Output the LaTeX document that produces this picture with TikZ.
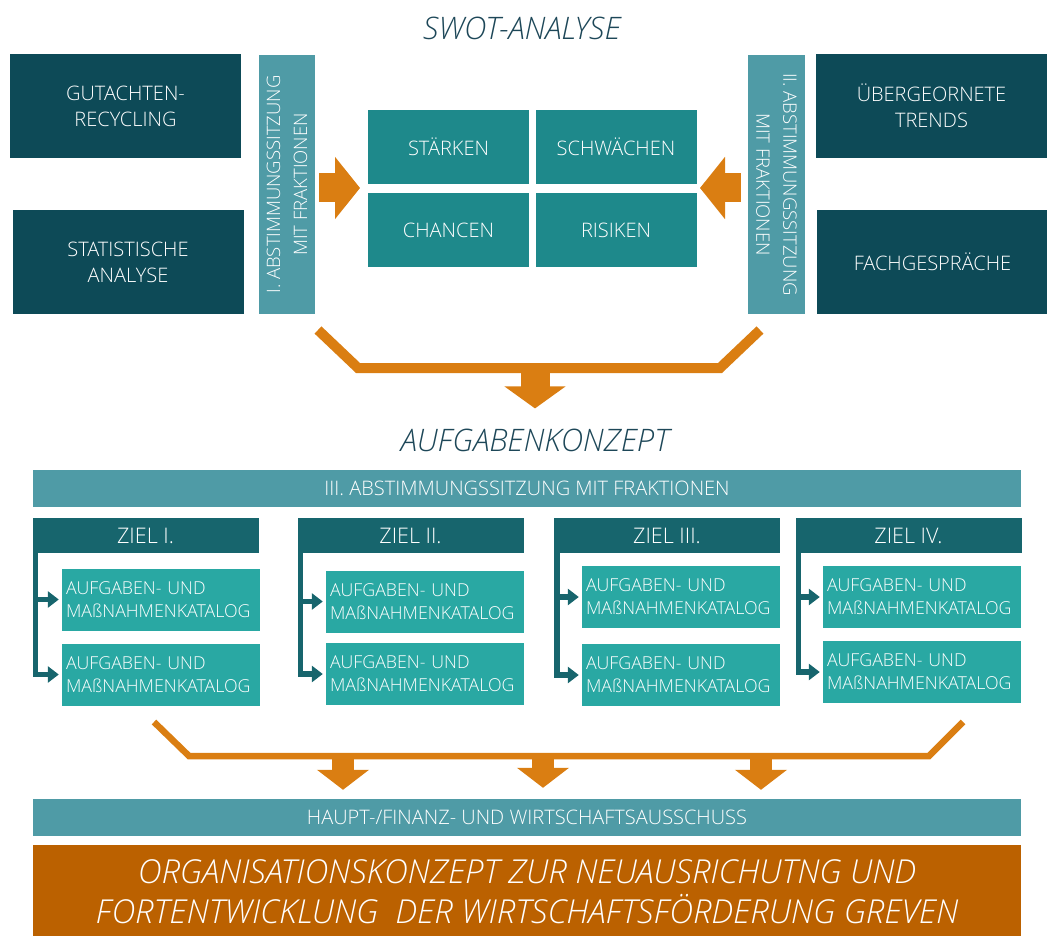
\documentclass[tikz,border=0pt]{standalone}
\usepackage{fontspec}
\setmainfont{Open Sans}[UprightFont=* Light, ItalicFont=* Light Italic]
\usetikzlibrary{arrows.meta}
\definecolor{srcColor}{RGB}{13, 74, 87}
\definecolor{voteColor}{RGB}{79, 155, 166}
\definecolor{swotColor}{RGB}{30, 137, 139}
\definecolor{goalColor}{RGB}{23, 101, 109}
\definecolor{catColor}{RGB}{41, 168, 163}
\definecolor{orangeColor}{RGB}{218, 126, 18}
\definecolor{finalColor}{RGB}{187, 97, 0}
\definecolor{headColor}{RGB}{29, 71, 88}

\begin{document}
\begin{tikzpicture}[x=1pt, y=-1pt]
    \tikzstyle{source} = [fill=srcColor, text=white, minimum width=231pt, minimum height=104pt, inner sep=0pt, align=center, font=\fontsize{20}{26}\selectfont]
    \tikzstyle{vote} = [fill=voteColor, text=white, inner sep=0pt, align=center, font=\fontsize{18.5}{27}\selectfont]
    \tikzstyle{swot} = [fill=swotColor, text=white, minimum width=161pt, minimum height=74pt, inner sep=0pt, font=\fontsize{20}{24}\selectfont]
    \tikzstyle{goal} = [fill=goalColor, text=white, minimum width=226pt, minimum height=35pt, inner sep=0pt, font=\fontsize{21.5}{24}\selectfont]
    \tikzstyle{catalog} = [fill=catColor, text=white, minimum width=198pt, minimum height=62pt, text width=190pt, inner xsep=4pt, inner ysep=0pt, align=left, font=\fontsize{17.8}{23}\selectfont]
    \tikzstyle{heading} = [text=headColor, inner sep=0pt, font=\fontsize{31}{36}\selectfont\itshape]
    \tikzstyle{block} = [-{Triangle[width=61pt, length=25pt]}, line width=29pt, orangeColor]
    \tikzstyle{smallblock} = [-{Triangle[width=51pt, length=20pt]}, line width=22pt, orangeColor]
    \tikzstyle{bracket} = [line width=10pt, orangeColor, line join=miter]
    \tikzstyle{branch} = [-{Triangle[length=11pt, width=16pt]}, line width=5.5pt, goalColor, shorten >=3pt]

    \useasboundingbox (0,0) rectangle (1047,936);

    % SWOT
    \node[heading] (tSwot) at (522,28) {SWOT-ANALYSE};

    \node[source] (gutachten) at (125.5,106) {GUTACHTEN-\\RECYCLING};
    \node[source] (statistik) at (128,262) {STATISTISCHE\\ANALYSE};
    \node[source] (trends) at (931.5,106) {ÜBERGEORNETE\\TRENDS};
    \node[source] (fachgespr) at (932.5,262) {FACHGESPRÄCHE};

    \node[vote, minimum width=259pt, minimum height=56pt, rotate=90] (vote1) at (287,184.5) {I. ABSTIMMUNGSSITZUNG\\MIT FRAKTIONEN};
    \node[vote, minimum width=259pt, minimum height=57pt, rotate=-90] (vote2) at (776.5,184.5) {II. ABSTIMMUNGSSITZUNG\\MIT FRAKTIONEN};

    \node[swot] (staerken) at (448.5,147) {STÄRKEN};
    \node[swot] (schwaechen) at (616,147) {SCHWÄCHEN};
    \node[swot] (chancen) at (448.5,230) {CHANCEN};
    \node[swot] (risiken) at (616,230) {RISIKEN};

    \coordinate (swotW) at (368,188);
    \coordinate (swotE) at (696,188);
    \draw[block, shorten <=4pt, shorten >=8pt] (vote1.south |- swotW) -- (swotW);
    \draw[block, shorten <=7pt, shorten >=4pt] (vote2.south |- swotE) -- (swotE);

    % Bracket down to the task concept
    \coordinate (brL) at (318,330);
    \coordinate (brR) at (760,330);
    \coordinate (swotOut) at (535,368);
    \draw[bracket] (brL) -- (358,368) -- (720,368) -- (brR);

    \node[heading] (tTasks) at (535,440) {AUFGABENKONZEPT};
    \draw[block, -{Triangle[width=60pt, length=22pt]}, shorten >=20pt] (swotOut) -- (tTasks.north);

    % Goals
    \node[vote, minimum width=988pt, minimum height=37pt, font=\fontsize{20}{22}\selectfont] (vote3) at (527,488.5) {III. ABSTIMMUNGSSITZUNG MIT FRAKTIONEN};

    \node[goal] (z1) at (145.5,535.5) {ZIEL I.};
    \node[goal] (z2) at (410.5,535.5) {ZIEL II.};
    \node[goal] (z3) at (667,535.5) {ZIEL III.};
    \node[goal] (z4) at (908.5,535.5) {ZIEL IV.};

    \node[catalog] (k11) at (161,599.5) {AUFGABEN- UND\\MAßNAHMENKATALOG};
    \node[catalog] (k12) at (161,674.5) {AUFGABEN- UND\\MAßNAHMENKATALOG};
    \node[catalog] (k21) at (425,601.5) {AUFGABEN- UND\\MAßNAHMENKATALOG};
    \node[catalog] (k22) at (425,674) {AUFGABEN- UND\\MAßNAHMENKATALOG};
    \node[catalog] (k31) at (681,597) {AUFGABEN- UND\\MAßNAHMENKATALOG};
    \node[catalog] (k32) at (681,675) {AUFGABEN- UND\\MAßNAHMENKATALOG};
    \node[catalog] (k41) at (922,597) {AUFGABEN- UND\\MAßNAHMENKATALOG};
    \node[catalog] (k42) at (922,672) {AUFGABEN- UND\\MAßNAHMENKATALOG};

    \draw[branch] ([xshift=3pt]z1.south west) |- (k11.west);
    \draw[branch] ([xshift=3pt]z1.south west) |- (k12.west);
    \draw[branch] ([xshift=3pt]z2.south west) |- (k21.west);
    \draw[branch] ([xshift=3pt]z2.south west) |- (k22.west);
    \draw[branch] ([xshift=3pt]z3.south west) |- (k31.west);
    \draw[branch] ([xshift=3pt]z3.south west) |- (k32.west);
    \draw[branch] ([xshift=3pt]z4.south west) |- (k41.west);
    \draw[branch] ([xshift=3pt]z4.south west) |- (k42.west);

    % Committee and result
    \node[vote, minimum width=988pt, minimum height=37pt, font=\fontsize{20}{22}\selectfont] (committee) at (527,817.5) {HAUPT-/FINANZ- UND WIRTSCHAFTSAUSSCHUSS};
    \node[fill=finalColor, text=white, minimum width=988pt, minimum height=94pt, inner sep=0pt, align=center, font=\fontsize{33}{40}\selectfont\itshape] (concept) at (527,892) {ORGANISATIONSKONZEPT ZUR NEUAUSRICHUTNG UND\\FORTENTWICKLUNG\ \ DER WIRTSCHAFTSFÖRDERUNG GREVEN};

    \coordinate (goalL) at (154,722);
    \coordinate (goalR) at (963,722);
    \coordinate (out1) at (343,756);
    \coordinate (out2) at (543,756);
    \coordinate (out3) at (761,756);
    \draw[bracket, line width=6.5pt] (goalL) -- (189,756) -- (929,756) -- (goalR);
    \draw[smallblock, shorten >=9pt] (out1) -- (out1 |- committee.north);
    \draw[smallblock, shorten >=11pt] (out2) -- (out2 |- committee.north);
    \draw[smallblock, shorten >=9pt] (out3) -- (out3 |- committee.north);
\end{tikzpicture}
\end{document}
